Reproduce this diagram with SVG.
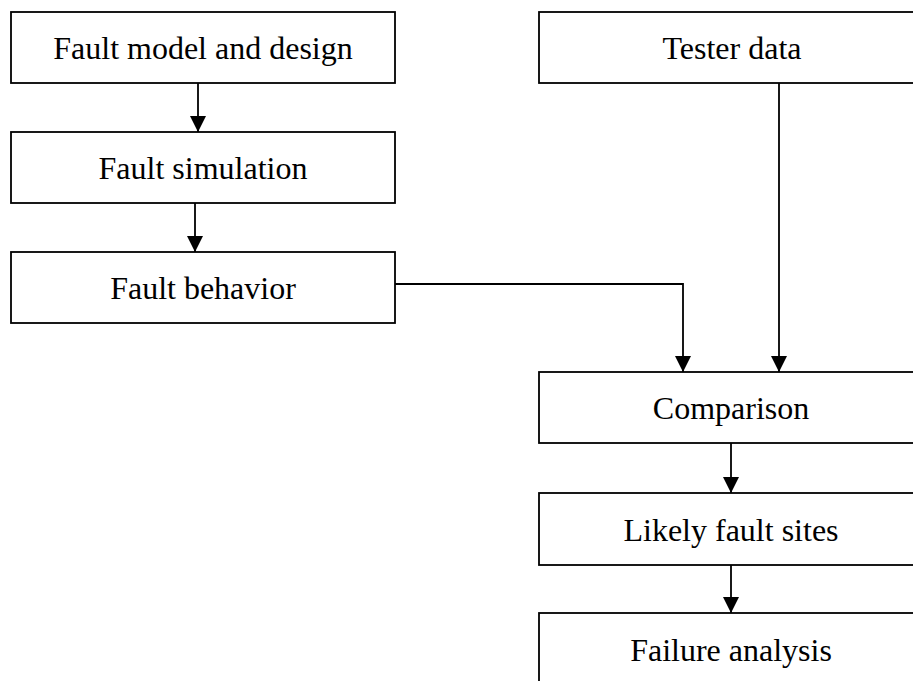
<svg xmlns="http://www.w3.org/2000/svg" width="913" height="681" viewBox="0 0 913 681">
<style>
.box{fill:#fff;stroke:#000;stroke-width:1.8}
.lbl{font-family:"Liberation Serif","Times New Roman",serif;font-size:32px;fill:#000;text-anchor:middle}
.con{fill:none;stroke:#000;stroke-width:1.8}
</style>
<defs>
<marker id="arr" markerUnits="userSpaceOnUse" markerWidth="16" markerHeight="16" refX="16" refY="8" orient="auto">
<path d="M0,0 L16,8 L0,16 z" fill="#000"/>
</marker>
</defs>
<rect width="913" height="681" fill="#fff"/>
<g id="fault-model"><rect class="box" x="11" y="12" width="384" height="71"/><text class="lbl" x="203" y="59">Fault model and design</text></g>
<g id="fault-sim"><rect class="box" x="11" y="132" width="384" height="71"/><text class="lbl" x="203" y="179">Fault simulation</text></g>
<g id="fault-behavior"><rect class="box" x="11" y="252" width="384" height="71"/><text class="lbl" x="203" y="299">Fault behavior</text></g>
<g id="tester-data"><rect class="box" x="539" y="12" width="385" height="71"/><text class="lbl" x="732" y="59">Tester data</text></g>
<g id="comparison"><rect class="box" x="539" y="372" width="385" height="71"/><text class="lbl" x="731" y="419">Comparison</text></g>
<g id="likely-sites"><rect class="box" x="539" y="493" width="385" height="72"/><text class="lbl" x="731" y="541">Likely fault sites</text></g>
<g id="failure-analysis"><rect class="box" x="539" y="613" width="385" height="72"/><text class="lbl" x="731" y="661">Failure analysis</text></g>
<g id="connectors">
<path class="con" d="M198,83 L198,132" marker-end="url(#arr)"/>
<path class="con" d="M195,203 L195,252" marker-end="url(#arr)"/>
<path class="con" d="M395,284 L683,284 L683,372" marker-end="url(#arr)"/>
<path class="con" d="M779,83 L779,372" marker-end="url(#arr)"/>
<path class="con" d="M731,443 L731,493" marker-end="url(#arr)"/>
<path class="con" d="M731,565 L731,613" marker-end="url(#arr)"/>
</g>
</svg>
